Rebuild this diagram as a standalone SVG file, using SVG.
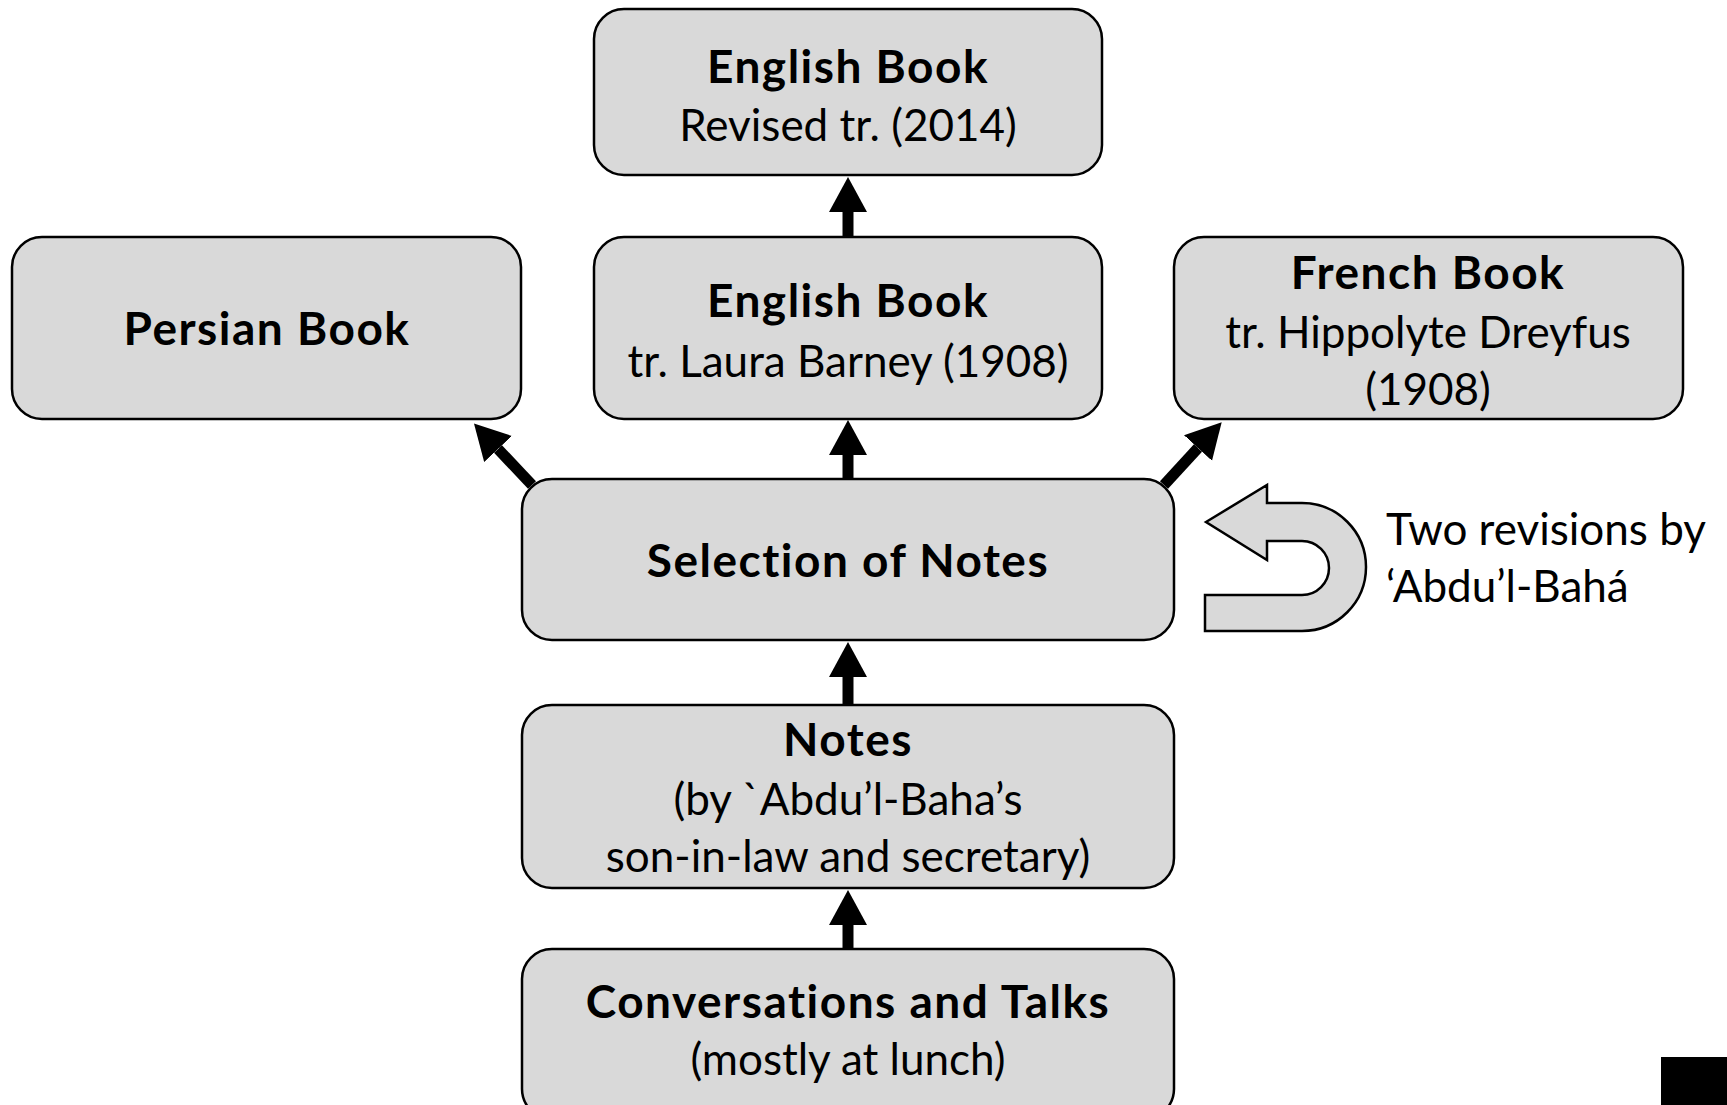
<svg xmlns="http://www.w3.org/2000/svg" width="1727" height="1105" viewBox="0 0 1727 1105">
<defs>
<style>
.box{fill:#d9d9d9;stroke:#000;stroke-width:2.5}
.t{font-family:Lato,"Liberation Sans",sans-serif;font-size:44px;fill:#000;text-anchor:middle;font-variant-ligatures:none}
.b{font-weight:bold;font-size:46px;letter-spacing:1.5px}
.c{stroke:#000;stroke-width:11;fill:none;marker-end:url(#ah)}
</style>
<marker id="ah" markerUnits="userSpaceOnUse" markerWidth="36" markerHeight="40" refX="0" refY="19" orient="auto" viewBox="0 0 36 40">
<path d="M0,0 L35,19 L0,38 Z" fill="#000"/>
</marker>
</defs>
<rect width="1727" height="1105" fill="#fff"/>
<g id="connectors">
<line class="c" x1="848" y1="237" x2="848" y2="212"/>
<line class="c" x1="848" y1="479" x2="848" y2="455"/>
<line class="c" x1="848" y1="705" x2="848" y2="677"/>
<line class="c" x1="848" y1="949" x2="848" y2="925"/>
<line class="c" x1="532" y1="485" x2="498" y2="449"/>
<line class="c" x1="1164" y1="485" x2="1198" y2="448"/>
</g>
<g id="english2014">
<rect class="box" x="594" y="9" width="508" height="166" rx="30"/>
<text class="t b" x="848" y="83">English Book</text>
<text class="t" x="848" y="141">Revised tr. (2014)</text>
</g>
<g id="englishBarney">
<rect class="box" x="594" y="237" width="508" height="182" rx="30"/>
<text class="t b" x="848" y="317">English Book</text>
<text class="t" x="848" y="377">tr. Laura Barney (1908)</text>
</g>
<g id="persian">
<rect class="box" x="12" y="237" width="509" height="182" rx="30"/>
<text class="t b" x="267" y="345">Persian Book</text>
</g>
<g id="french">
<rect class="box" x="1174" y="237" width="509" height="182" rx="30"/>
<text class="t b" x="1428" y="289">French Book</text>
<text class="t" x="1428" y="348">tr. Hippolyte Dreyfus</text>
<text class="t" x="1428" y="405">(1908)</text>
</g>
<g id="selection">
<rect class="box" x="522" y="479" width="652" height="161" rx="30"/>
<text class="t b" x="848" y="577">Selection of Notes</text>
</g>
<g id="revisions">
<path class="box" d="M1206,522 L1267,485 L1267,503 L1302,503 A64,64 0 0 1 1302,631 L1205,631 L1205,595 L1302,595 A27,27 0 0 0 1302,541 L1267,541 L1267,560 Z"/>
<text class="t" style="text-anchor:start" x="1386" y="545">Two revisions by</text>
<text class="t" style="text-anchor:start" x="1386" y="602">‘Abdu’l-Bahá</text>
</g>
<g id="notes">
<rect class="box" x="522" y="705" width="652" height="183" rx="30"/>
<text class="t b" x="848" y="756">Notes</text>
<text class="t" x="848" y="815">(by `Abdu’l-Baha’s</text>
<text class="t" x="848" y="872">son-in-law and secretary)</text>
</g>
<g id="conversations">
<rect class="box" x="522" y="949" width="652" height="170" rx="30"/>
<text class="t b" x="848" y="1018">Conversations and Talks</text>
<text class="t" x="848" y="1075">(mostly at lunch)</text>
</g>
<rect x="1661" y="1057" width="66" height="48" fill="#000"/>
</svg>
